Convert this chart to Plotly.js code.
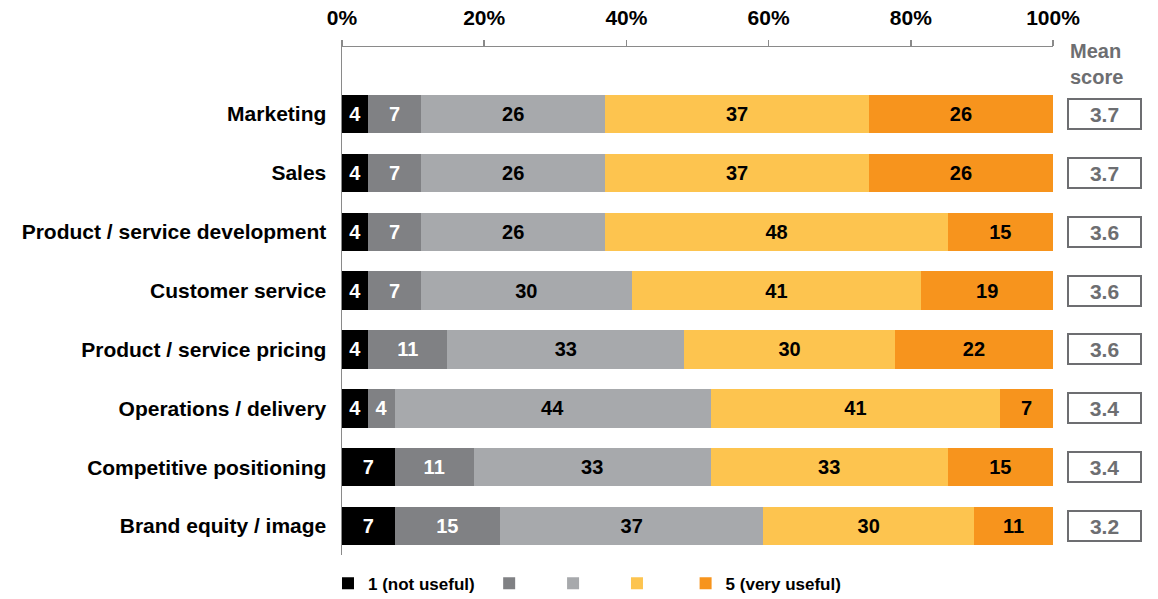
<!DOCTYPE html>
<html>
<head>
<meta charset="utf-8">
<script src="https://cdn.plot.ly/plotly-3.0.1.min.js"></script>
<style>
html,body{margin:0;padding:0;background:#fff;}
#chart{width:1158px;height:599px;}
</style>
</head>
<body>
<div id="chart"></div>
<script>
// Data (percent of respondents per rating)
const categories = ['Marketing','Sales','Product / service development','Customer service','Product / service pricing','Operations / delivery','Competitive positioning','Brand equity / image'];
const seriesNames = ['1 (not useful)\u00a0\u00a0', '\u00a0\u00a0\u00a0\u00a0', '\u00a0\u00a0\u00a0\u00a0', '\u00a0\u00a0\u00a0\u00a0\u00a0', '5 (very useful)'];
const rating1 = [3.70, 3.70, 3.70, 3.70, 3.70, 3.70, 7.41, 7.41];
const rating2 = [7.41, 7.41, 7.41, 7.41, 11.11, 3.70, 11.11, 14.81];
const rating3 = [25.93, 25.93, 25.93, 29.63, 33.33, 44.44, 33.33, 37.04];
const rating4 = [37.04, 37.04, 48.15, 40.74, 29.63, 40.74, 33.33, 29.63];
const rating5 = [25.93, 25.93, 14.81, 18.52, 22.22, 7.41, 14.81, 11.11];
const meanScores = ['3.7','3.7','3.6','3.6','3.6','3.4','3.4','3.2'];
const xTickVals = [0, 20, 40, 60, 80, 100];
const xTickText = ['0%','20%','40%','60%','80%','100%'];

const colors = ['#000000', '#808184', '#a7a9ac', '#fdc44f', '#f7941d'];
const textColors = ['#ffffff', '#ffffff', '#000000', '#000000', '#000000'];
const seriesValues = [rating1, rating2, rating3, rating4, rating5];

const FONT = 'Liberation Sans, Arial, Helvetica, sans-serif';

const traces = seriesValues.map((vals, i) => ({
  type: 'bar',
  orientation: 'h',
  name: seriesNames[i],
  y: categories,
  x: vals,
  marker: {color: colors[i], line: {width: 0}},
  texttemplate: '%{x:.0f}',
  textposition: 'inside',
  insidetextanchor: 'middle',
  textangle: 0,
  constraintext: 'none',
  textfont: {family: FONT, size: 20, color: textColors[i], weight: 'bold'},
  hoverinfo: 'skip'
}));

const gray = '#6d6e71';
const annotations = [];
categories.forEach((c, i) => {
  annotations.push({
    xref: 'paper', yref: 'y',
    x: 1.0731, y: c,
    xanchor: 'center', yanchor: 'middle',
    text: meanScores[i],
    showarrow: false,
    width: 71, height: 28,
    borderwidth: 2, borderpad: 0,
    bordercolor: gray,
    bgcolor: '#ffffff',
    font: {family: FONT, size: 21, color: gray, weight: 'bold'}
  });
});
annotations.push({
  xref: 'paper', yref: 'paper', x: 1.0211, y: 0.966,
  xanchor: 'left', yanchor: 'middle', align: 'left', showarrow: false,
  text: 'Mean<br>score', font: {family: FONT, size: 20, color: gray, weight: 'bold'}
});

const layout = {
  width: 1158, height: 599,
  margin: {l: 342, r: 105, t: 47, b: 44, autoexpand: false},
  paper_bgcolor: '#ffffff',
  plot_bgcolor: '#ffffff',
  barmode: 'stack',
  bargap: 0.35,
  hovermode: false,
  font: {family: FONT, size: 17, color: '#000000'},
  xaxis: {
    side: 'top',
    range: [0, 100],
    tickvals: xTickVals,
    ticktext: xTickText,
    ticks: 'outside', ticklen: 6, tickwidth: 1.5, tickcolor: '#8a8a8a',
    showline: true, linecolor: '#8a8a8a', linewidth: 1.5,
    showgrid: false, zeroline: false,
    ticklabelstandoff: 6,
    tickfont: {family: FONT, size: 21, color: '#000000', weight: 'bold'},
    fixedrange: true
  },
  yaxis: {
    type: 'category',
    categoryorder: 'array',
    categoryarray: categories,
    range: [7.49, -1.136],
    showline: true, linecolor: '#8a8a8a', linewidth: 1.5,
    showgrid: false, zeroline: false,
    ticks: '', ticklabelstandoff: 10,
    tickfont: {family: FONT, size: 21, color: '#000000', weight: 'bold'},
    fixedrange: true
  },
  showlegend: true,
  legend: {
    orientation: 'h',
    x: -0.0197, xanchor: 'left',
    y: -0.021, yanchor: 'top',
    traceorder: 'normal',
    font: {family: FONT, size: 17, color: '#000000', weight: 'bold'},
    itemclick: false, itemdoubleclick: false
  },
  annotations: annotations
};

Plotly.newPlot('chart', traces, layout, {staticPlot: true, displayModeBar: false});
</script>
</body>
</html>
